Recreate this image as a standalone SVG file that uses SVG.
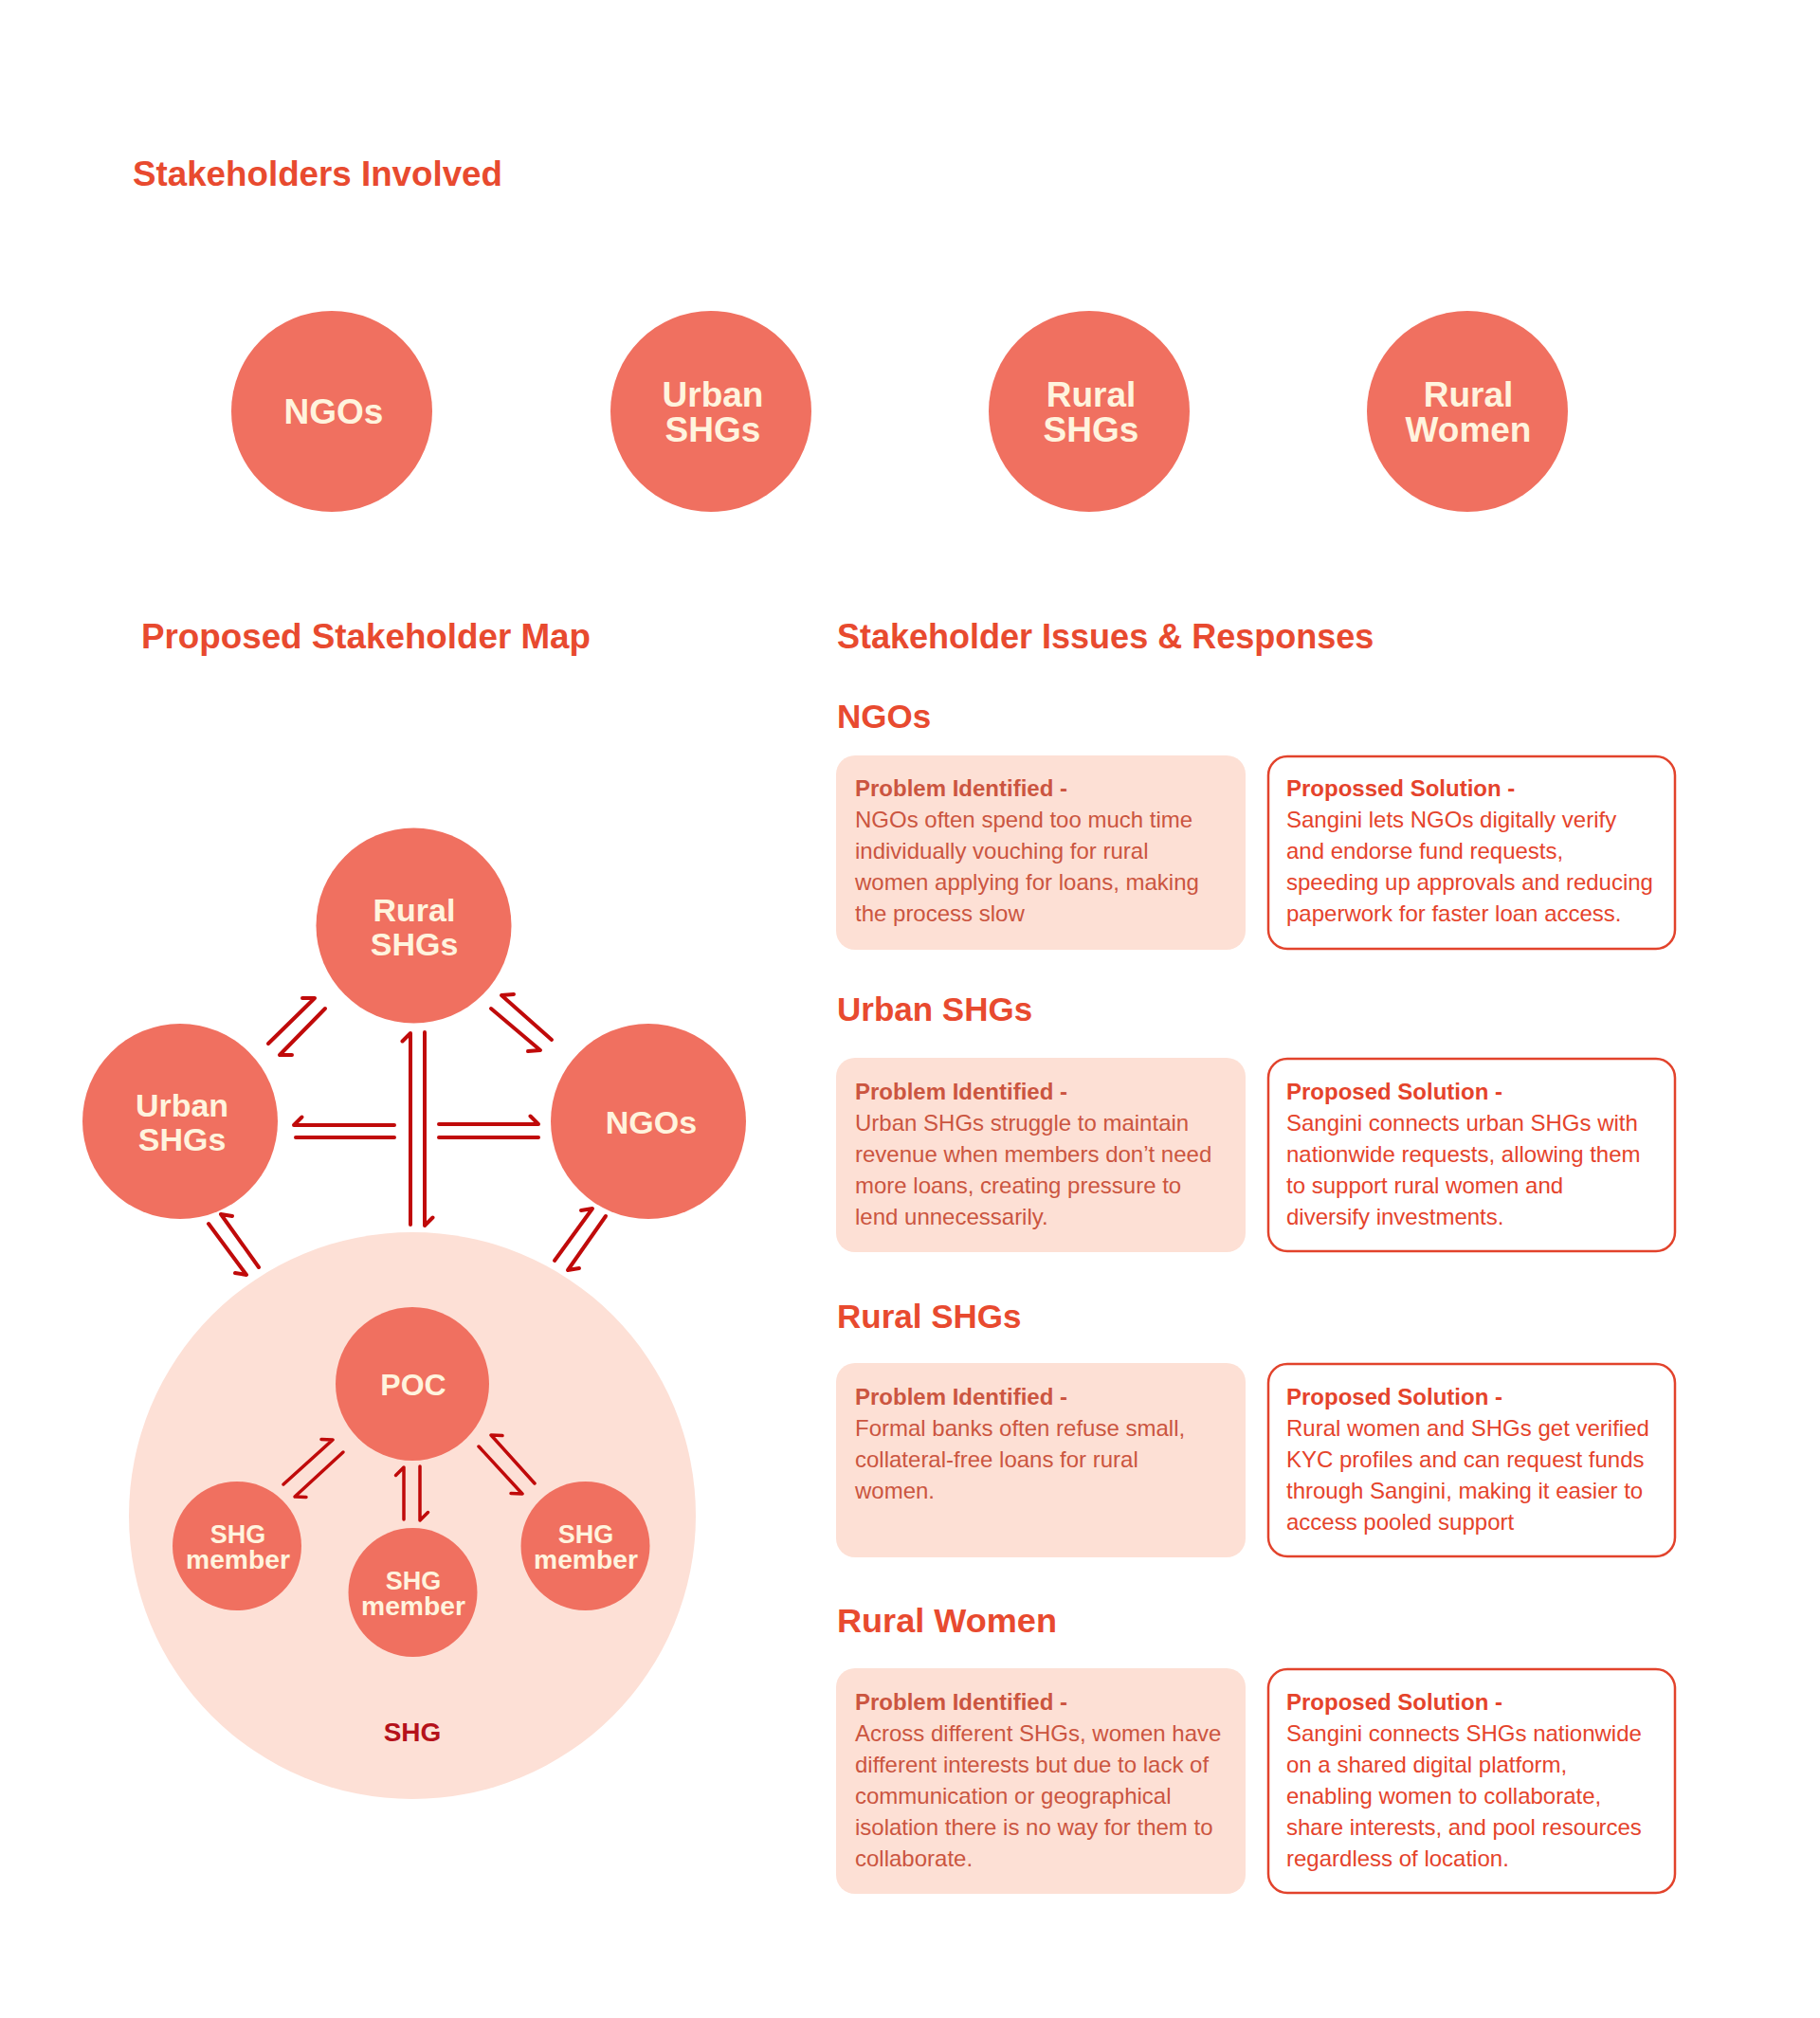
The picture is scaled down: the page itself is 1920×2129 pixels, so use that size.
<svg xmlns="http://www.w3.org/2000/svg" width="1920" height="2129" viewBox="0 0 1920 2129">
<style>
.h1{font-family:"Liberation Sans",Arial,sans-serif;font-weight:bold;font-size:36px;fill:#E84A2F}
.h2{font-family:"Liberation Sans",Arial,sans-serif;font-weight:bold;font-size:35px;fill:#E84A2F}
.node{fill:#F07060}
.nt{font-family:"Liberation Sans",Arial,sans-serif;font-weight:bold;fill:#FFF4DE;text-anchor:middle}
.big{font-size:37px}
.mid{font-size:34px}
.sm{font-size:27px}
.pbox{fill:#FDE0D5}
.sbox{fill:#FFFFFF;stroke:#E2432C;stroke-width:2.5}
.pt{font-family:"Liberation Sans",Arial,sans-serif;font-size:24px;fill:#CB5540}
.st{font-family:"Liberation Sans",Arial,sans-serif;font-size:24px;fill:#E5432B}
.b{font-weight:bold}
.arr{fill:none;stroke:#C00A0A;stroke-width:4;stroke-linecap:round;stroke-linejoin:round}
.arr2{fill:none;stroke:#C00A0A;stroke-width:3.5;stroke-linecap:round;stroke-linejoin:round}
</style>
<rect width="1920" height="2129" fill="#FFFFFF"/>

<text class="h1" x="140" y="196" textLength="390" lengthAdjust="spacingAndGlyphs">Stakeholders Involved</text>

<g id="top-ngos"><circle class="node" cx="350" cy="434" r="106"/><text class="nt big" x="352" y="447">NGOs</text></g>
<g id="top-urban"><circle class="node" cx="750" cy="434" r="106"/><text class="nt big"><tspan x="752" y="429">Urban</tspan><tspan x="752" y="466">SHGs</tspan></text></g>
<g id="top-rural-shgs"><circle class="node" cx="1149" cy="434" r="106"/><text class="nt big"><tspan x="1151" y="429">Rural</tspan><tspan x="1151" y="466">SHGs</tspan></text></g>
<g id="top-rural-women"><circle class="node" cx="1548" cy="434" r="106"/><text class="nt big"><tspan x="1549" y="429">Rural</tspan><tspan x="1549" y="466">Women</tspan></text></g>

<text class="h1" x="149" y="684" textLength="474" lengthAdjust="spacingAndGlyphs">Proposed Stakeholder Map</text>
<text class="h1" x="883" y="684">Stakeholder Issues &amp; Responses</text>

<g id="shg-group">
<circle cx="435" cy="1599" r="299" fill="#FDE0D6"/>
<text x="435" y="1837" font-family="Liberation Sans, Arial, sans-serif" font-weight="bold" font-size="28" fill="#B5121B" text-anchor="middle">SHG</text>
</g>

<g id="map-rural-shgs"><circle class="node" cx="436.5" cy="976.5" r="103"/><text class="nt mid"><tspan x="437" y="972">Rural</tspan><tspan x="437" y="1008">SHGs</tspan></text></g>
<g id="map-urban-shgs"><circle class="node" cx="190" cy="1183" r="103"/><text class="nt mid"><tspan x="192" y="1178">Urban</tspan><tspan x="192" y="1214">SHGs</tspan></text></g>
<g id="map-ngos"><circle class="node" cx="684" cy="1183" r="103"/><text class="nt mid" x="687" y="1196">NGOs</text></g>
<g id="map-poc"><circle class="node" cx="435" cy="1460" r="81"/><text class="nt" font-size="32" x="436" y="1472">POC</text></g>
<g id="member-left"><circle class="node" cx="250" cy="1631" r="68"/><text class="nt sm"><tspan x="251" y="1628">SHG</tspan><tspan x="251" y="1655" textLength="110" lengthAdjust="spacingAndGlyphs">member</tspan></text></g>
<g id="member-middle"><circle class="node" cx="435.5" cy="1680" r="68"/><text class="nt sm"><tspan x="436" y="1677">SHG</tspan><tspan x="436" y="1704" textLength="110" lengthAdjust="spacingAndGlyphs">member</tspan></text></g>
<g id="member-right"><circle class="node" cx="617.5" cy="1631" r="68"/><text class="nt sm"><tspan x="618" y="1628">SHG</tspan><tspan x="618" y="1655" textLength="110" lengthAdjust="spacingAndGlyphs">member</tspan></text></g>

<g id="connectors">
<path class="arr" d="M283,1101 L332,1053 L319,1053"/>
<path class="arr" d="M343,1064 L295,1113 L308,1113"/>
<path class="arr" d="M582,1097 L529,1050 L542,1049"/>
<path class="arr" d="M518,1064 L570,1108 L557,1109"/>
<path class="arr" d="M433,1292 L433,1090 L424.5,1098.5"/>
<path class="arr" d="M448,1089 L448,1293 L456.5,1284.5"/>
<path class="arr" d="M416,1187 L310,1187 L318.5,1178.5"/>
<path class="arr" d="M312,1200 L416,1200"/>
<path class="arr" d="M463,1186 L568,1186 L559.5,1177.5"/>
<path class="arr" d="M463,1200 L568,1200"/>
<path class="arr" d="M220,1291 L260,1345 L248,1343"/>
<path class="arr" d="M273,1337 L233,1281 L245,1283"/>
<path class="arr" d="M585,1330 L625,1275 L613,1277"/>
<path class="arr" d="M639,1283 L599,1340 L611,1338"/>
<path class="arr2" d="M299,1566 L351,1519 L339,1518.4"/>
<path class="arr2" d="M362,1532 L311,1579 L323,1579.5"/>
<path class="arr2" d="M426,1603 L426,1548 L417.5,1556.5"/>
<path class="arr2" d="M443,1547 L443,1604 L451.5,1595.5"/>
<path class="arr2" d="M564,1565 L518,1514 L530,1514.6"/>
<path class="arr2" d="M505,1526 L551,1576 L539,1575.5"/>
</g>

<g id="section-ngos">
<text class="h2" x="883" y="768">NGOs</text>
<rect class="pbox" x="882" y="797" width="432" height="205" rx="20"/>
<text class="pt"><tspan class="b" x="902" y="840">Problem Identified -</tspan><tspan x="902" y="873">NGOs often spend too much time</tspan><tspan x="902" y="906">individually vouching for rural</tspan><tspan x="902" y="939">women applying for loans, making</tspan><tspan x="902" y="972">the process slow</tspan></text>
<rect class="sbox" x="1338" y="798" width="429" height="203" rx="20"/>
<text class="st"><tspan class="b" x="1357" y="840">Propossed Solution -</tspan><tspan x="1357" y="873">Sangini lets NGOs digitally verify</tspan><tspan x="1357" y="906">and endorse fund requests,</tspan><tspan x="1357" y="939">speeding up approvals and reducing</tspan><tspan x="1357" y="972">paperwork for faster loan access.</tspan></text>
</g>

<g id="section-urban">
<text class="h2" x="883" y="1077">Urban SHGs</text>
<rect class="pbox" x="882" y="1116" width="432" height="205" rx="20"/>
<text class="pt"><tspan class="b" x="902" y="1160">Problem Identified -</tspan><tspan x="902" y="1193">Urban SHGs struggle to maintain</tspan><tspan x="902" y="1226">revenue when members don’t need</tspan><tspan x="902" y="1259">more loans, creating pressure to</tspan><tspan x="902" y="1292">lend unnecessarily.</tspan></text>
<rect class="sbox" x="1338" y="1117" width="429" height="203" rx="20"/>
<text class="st"><tspan class="b" x="1357" y="1160">Proposed Solution -</tspan><tspan x="1357" y="1193">Sangini connects urban SHGs with</tspan><tspan x="1357" y="1226">nationwide requests, allowing them</tspan><tspan x="1357" y="1259">to support rural women and</tspan><tspan x="1357" y="1292">diversify investments.</tspan></text>
</g>

<g id="section-rural-shgs">
<text class="h2" x="883" y="1401">Rural SHGs</text>
<rect class="pbox" x="882" y="1438" width="432" height="205" rx="20"/>
<text class="pt"><tspan class="b" x="902" y="1482">Problem Identified -</tspan><tspan x="902" y="1515">Formal banks often refuse small,</tspan><tspan x="902" y="1548">collateral-free loans for rural</tspan><tspan x="902" y="1581">women.</tspan></text>
<rect class="sbox" x="1338" y="1439" width="429" height="203" rx="20"/>
<text class="st"><tspan class="b" x="1357" y="1482">Proposed Solution -</tspan><tspan x="1357" y="1515">Rural women and SHGs get verified</tspan><tspan x="1357" y="1548">KYC profiles and can request funds</tspan><tspan x="1357" y="1581">through Sangini, making it easier to</tspan><tspan x="1357" y="1614">access pooled support</tspan></text>
</g>

<g id="section-rural-women">
<text class="h2" x="883" y="1722" textLength="232" lengthAdjust="spacingAndGlyphs">Rural Women</text>
<rect class="pbox" x="882" y="1760" width="432" height="238" rx="20"/>
<text class="pt"><tspan class="b" x="902" y="1804">Problem Identified -</tspan><tspan x="902" y="1837">Across different SHGs, women have</tspan><tspan x="902" y="1870">different interests but due to lack of</tspan><tspan x="902" y="1903">communication or geographical</tspan><tspan x="902" y="1936">isolation there is no way for them to</tspan><tspan x="902" y="1969">collaborate.</tspan></text>
<rect class="sbox" x="1338" y="1761" width="429" height="236" rx="20"/>
<text class="st"><tspan class="b" x="1357" y="1804">Proposed Solution -</tspan><tspan x="1357" y="1837">Sangini connects SHGs nationwide</tspan><tspan x="1357" y="1870">on a shared digital platform,</tspan><tspan x="1357" y="1903">enabling women to collaborate,</tspan><tspan x="1357" y="1936">share interests, and pool resources</tspan><tspan x="1357" y="1969">regardless of location.</tspan></text>
</g>
</svg>
